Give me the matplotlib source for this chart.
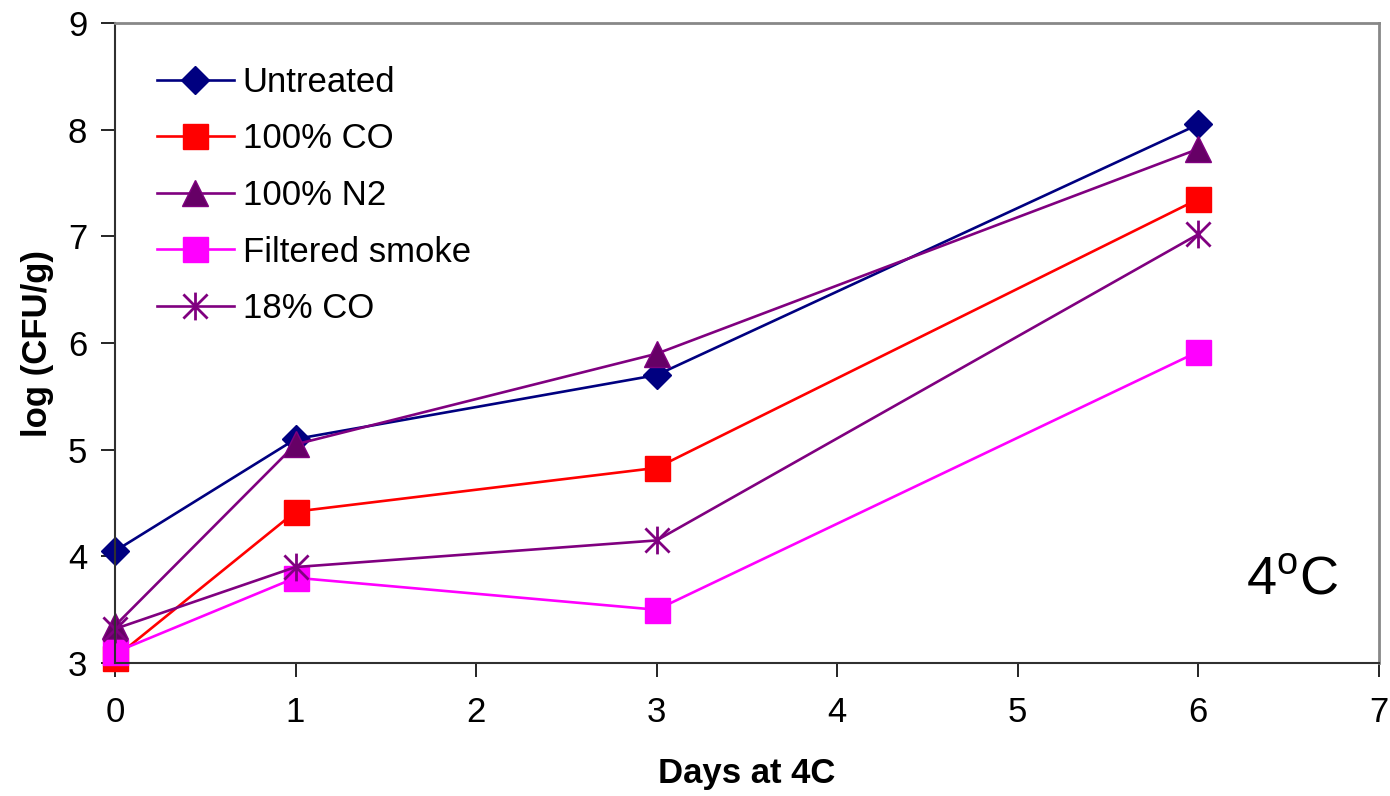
import matplotlib
matplotlib.use("Agg")
import matplotlib.pyplot as plt
from matplotlib.path import Path

# Daten
days = [0, 1, 3, 6]
untreated = [4.05, 5.10, 5.70, 8.05]
co_100 = [3.05, 4.42, 4.83, 7.35]
n2_100 = [3.35, 5.05, 5.90, 7.82]
filtered_smoke = [3.10, 3.80, 3.50, 5.92]
co_18 = [3.32, 3.90, 4.15, 7.02]

plt.rcParams['font.family'] = ['Liberation Sans', 'DejaVu Sans']
plt.rcParams['mathtext.fontset'] = 'custom'
plt.rcParams['mathtext.rm'] = 'Liberation Sans'

# Excel-Sternchen: X plus senkrechter Strich
asterisk = Path([(-1, -1), (1, 1), (-1, 1), (1, -1), (0, -1.15), (0, 1.15)],
                [Path.MOVETO, Path.LINETO, Path.MOVETO, Path.LINETO, Path.MOVETO, Path.LINETO])

fig = plt.figure(figsize=(13.9, 7.96), dpi=100)
ax = fig.add_axes([0.0827, 0.167, 0.9093, 0.804])

lw = 1.9
ax.plot(days, untreated, color='#000080', lw=lw, marker='D', ms=14,
        mfc='#000080', mec='#000080', label='Untreated', clip_on=False)
ax.plot(days, co_100, color='#FF0000', lw=lw, marker='s', ms=18,
        mfc='#FF0000', mec='#FF0000', label='100% CO', clip_on=False)
ax.plot(days, n2_100, color='#800080', lw=lw, marker='^', ms=19,
        mfc='#660066', mec='#800080', label='100% N2', clip_on=False)
ax.plot(days, filtered_smoke, color='#FF00FF', lw=lw, marker='s', ms=18,
        mfc='#FF00FF', mec='#FF00FF', label='Filtered smoke', clip_on=False)
ax.plot(days, co_18, color='#800080', lw=lw, marker=asterisk, ms=20,
        mfc='none', mec='#800080', mew=2, label='18% CO', clip_on=False)

ax.set_xlim(0, 7)
ax.set_ylim(3, 9)
ax.set_xticks(range(0, 8))
ax.set_yticks(range(3, 10))
ax.tick_params(direction='out', length=10, width=1.2, labelsize=25)
ax.tick_params(axis='x', pad=14)
ax.tick_params(axis='y', pad=10)

for s in ['left', 'bottom']:
    ax.spines[s].set_color('#303030')
    ax.spines[s].set_linewidth(1.5)
for s in ['top', 'right']:
    ax.spines[s].set_color('#888888')
    ax.spines[s].set_linewidth(2)

ax.set_xlabel('Days at 4C', fontsize=25, fontweight='bold', labelpad=20)
ax.set_ylabel('log (CFU/g)', fontsize=25, fontweight='bold', labelpad=10)

ax.text(0.968, 0.13, r'4$^{\mathrm{o}}$C', transform=ax.transAxes,
        fontsize=39, ha='right', va='center')

ax.legend(loc='upper left', bbox_to_anchor=(0.0225, 0.955), frameon=False,
          fontsize=25, handlelength=2.2, handletextpad=0.26, labelspacing=0.68,
          borderaxespad=0)

plt.savefig('out.png', dpi=100)
